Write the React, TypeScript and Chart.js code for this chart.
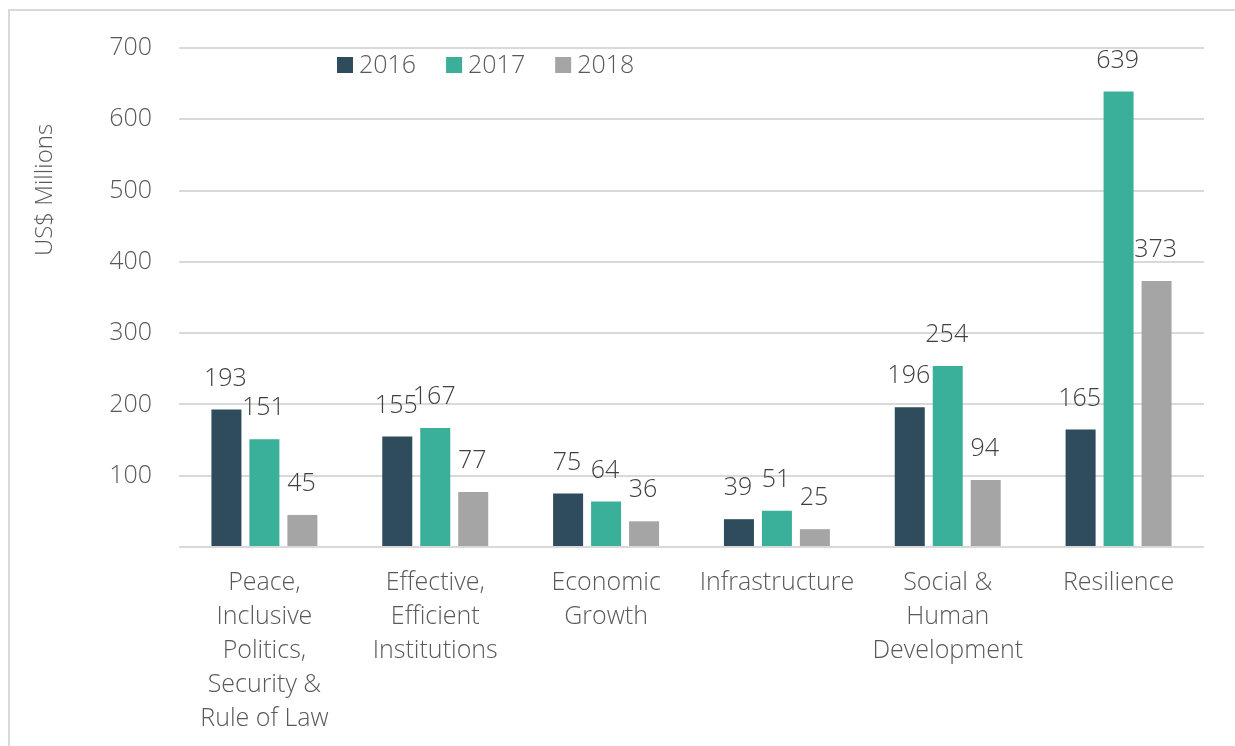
import React, { useEffect, useRef } from "react";
import { Chart, registerables } from "chart.js";

Chart.register(...registerables);

const categories: string[][] = [
  ["Peace,", "Inclusive", "Politics,", "Security &", "Rule of Law"],
  ["Effective,", "Efficient", "Institutions"],
  ["Economic", "Growth"],
  ["Infrastructure"],
  ["Social &", "Human", "Development"],
  ["Resilience"],
];
const seriesNames = ["2016", "2017", "2018"];
const values2016 = [193, 155, 75, 39, 196, 165];
const values2017 = [151, 167, 64, 51, 254, 639];
const values2018 = [45, 77, 36, 25, 94, 373];
const seriesColors = ["#2E4C5C", "#3AB09A", "#A5A5A5"];
const yTicks = [0, 100, 200, 300, 400, 500, 600, 700];
const yTitle = "US$ Millions";

const FONT = "'Open Sans', 'Liberation Sans', Arial, sans-serif";

const labelPlugin = {
  id: "barLabels",
  afterDatasetsDraw(chart: any) {
    const ctx = chart.ctx;
    ctx.save();
    ctx.font = `300 25px ${FONT}`;
    ctx.fillStyle = "#404040";
    ctx.textAlign = "center";
    ctx.textBaseline = "middle";
    chart.data.datasets.forEach((ds: any, i: number) => {
      const meta = chart.getDatasetMeta(i);
      meta.data.forEach((el: any, j: number) => {
        ctx.fillText(String(ds.data[j]), el.x - 1, el.y - 31);
      });
    });
    ctx.restore();
  },
};

const legendPlugin = {
  id: "customLegend",
  afterDraw(chart: any) {
    const ctx = chart.ctx;
    const area = chart.chartArea;
    ctx.save();
    ctx.font = `300 25px ${FONT}`;
    ctx.textBaseline = "middle";
    ctx.textAlign = "left";
    let x = area.left + 158;
    const y = 65;
    chart.data.datasets.forEach((ds: any) => {
      ctx.fillStyle = ds.backgroundColor;
      ctx.fillRect(x, y - 8, 16, 16);
      ctx.fillStyle = "#595959";
      ctx.fillText(ds.label, x + 22, y + 1);
      x += 22 + ctx.measureText(ds.label).width + 30;
    });
    // y axis title
    ctx.translate(45, 190);
    ctx.rotate(-Math.PI / 2);
    ctx.textAlign = "center";
    ctx.font = `300 24px ${FONT}`;
    ctx.fillText(yTitle, 0, 0);
    ctx.restore();
  },
};

export default function App() {
  const ref = useRef<HTMLCanvasElement>(null);
  useEffect(() => {
    document.body.style.margin = "0";
    const chart = new Chart(ref.current!, {
      type: "bar",
      data: {
        labels: categories,
        datasets: [values2016, values2017, values2018].map((d, i) => ({
          label: seriesNames[i],
          data: d,
          backgroundColor: seriesColors[i],
          barPercentage: 0.79,
          categoryPercentage: 0.667,
        })),
      },
      options: {
        animation: false,
        responsive: false,
        maintainAspectRatio: false,
        layout: { padding: { top: 48, right: 31, left: 0, bottom: 0 } },
        plugins: { legend: { display: false }, tooltip: { enabled: false } },
        scales: {
          x: {
            grid: { display: false, drawTicks: false },
            border: { display: false },
            ticks: {
              padding: 19,
              color: "#595959",
              font: { family: FONT, size: 25, weight: "300" as any, lineHeight: 1.36 },
              maxRotation: 0,
              autoSkip: false,
            },
            afterFit(scale: any) {
              scale.height = 199;
            },
          },
          y: {
            min: 0,
            max: 700,
            afterBuildTicks(scale: any) {
              scale.ticks = yTicks.map((v) => ({ value: v }));
            },
            grid: { color: "#D9D9D9", lineWidth: 2, drawTicks: false },
            border: { display: false },
            ticks: {
              padding: 27,
              color: "#595959",
              font: { family: FONT, size: 25, weight: "300" as any },
              callback: (v: any) => (v === 0 ? "" : String(v)),
            },
            afterFit(scale: any) {
              scale.width = 179;
            },
          },
        },
      },
      plugins: [labelPlugin, legendPlugin],
    });
    return () => chart.destroy();
  }, []);
  return (
    <div style={{ position: "relative", width: 1235, height: 746, overflow: "hidden", background: "#fff" }}>
      <div
        style={{
          position: "absolute",
          left: 8,
          top: 9,
          width: 1300,
          height: 800,
          borderTop: "2px solid #D9D9D9",
          borderLeft: "2px solid #D9D9D9",
        }}
      />
      <canvas ref={ref} width={1235} height={746} style={{ position: "absolute", left: 0, top: 0 }} />
    </div>
  );
}
